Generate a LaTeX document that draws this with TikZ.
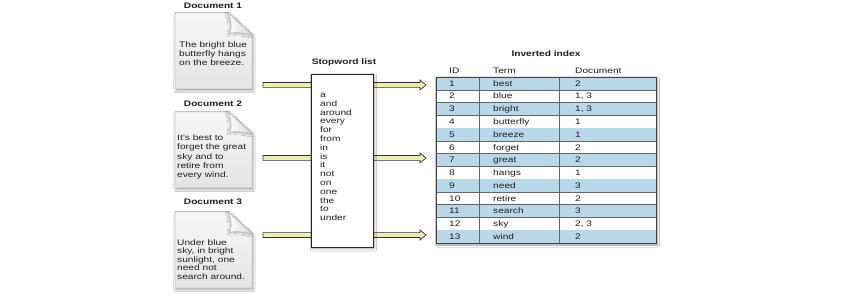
\documentclass[tikz,border=0pt]{standalone}
\usepackage{fontspec}
\setmainfont[FakeStretch=1.27]{Liberation Sans}
\usetikzlibrary{calc,shadows.blur}
\definecolor{rowblue}{HTML}{B8D7E9}
\definecolor{arrowfill}{HTML}{EEEDB4}
\definecolor{txt}{HTML}{1E1E1E}
\tikzset{
  pagebox/.style={draw=gray!55, line width=0.5pt, top color=gray!6, bottom color=gray!22,
    blur shadow={shadow xshift=1pt, shadow yshift=-1.6pt, shadow blur steps=6, shadow opacity=35}},
  flapbox/.style={draw=gray!50, line width=0.4pt, left color=white, right color=gray!30},
  ttl/.style={font=\fontsize{8}{9}\selectfont\bfseries, text=txt, inner sep=0},
  ln/.style={anchor=base west, inner sep=0, text=txt},
  arrowst/.style={draw=black!80, line width=0.7pt, fill=arrowfill, line join=miter},
  cell/.style={anchor=base west, inner sep=0, text=txt},
}
\newcommand\fatarrow[2]{\draw[arrowst] ($(#1)+(0,-2.4)$) -- ($(#2)+(-6,-2.4)$) -- ($(#2)+(-6,-5)$) -- (#2) -- ($(#2)+(-6,5)$) -- ($(#2)+(-6,2.4)$) -- ($(#1)+(0,2.4)$) -- cycle;}
\begin{document}
\begin{tikzpicture}[x=1pt,y=-1pt, font=\fontsize{8}{9}\selectfont]
\useasboundingbox[fill=white] (0,0) rectangle (844,294);

% documents
\foreach \t in {13,112,212}{
  \path[pagebox] (175,\t) -- (228,\t) -- (252,\t+22) -- (252,\t+76) -- (175,\t+76) -- cycle;
  \path[flapbox, blur shadow={shadow xshift=-1pt, shadow yshift=-1pt, shadow blur steps=4, shadow opacity=30}]
     (228,\t) .. controls (232,\t+8) and (232,\t+14) .. (230,\t+20) .. controls (238,\t+19) and (246,\t+20) .. (252,\t+22) -- cycle;
}
\node[ttl] (doc1t) at (213,6) {Document 1};
\node[ttl] (doc2t) at (213,104) {Document 2};
\node[ttl] (doc3t) at (213,202) {Document 3};

\node[ln] (d1a) at (179,48) {The bright blue};
\node[ln] (d1b) at (179,57) {butterfly hangs};
\node[ln] (d1c) at (179,66) {on the breeze.};

\node[ln] (d2a) at (177,141) {It's best to};
\node[ln] (d2b) at (177,150) {forget the great};
\node[ln] (d2c) at (177,159.5) {sky and to};
\node[ln] (d2d) at (177,168.5) {retire from};
\node[ln] (d2e) at (177,177.5) {every wind.};

\node[ln] (d3a) at (177,245) {Under blue};
\node[ln] (d3b) at (177,253.5) {sky, in bright};
\node[ln] (d3c) at (177,262) {sunlight, one};
\node[ln] (d3d) at (177,270.5) {need not};
\node[ln] (d3e) at (177,279) {search around.};

% arrows
\coordinate (as1) at (263,85);  \coordinate (ae1) at (426,85);
\coordinate (as2) at (263,158); \coordinate (ae2) at (426,158);
\coordinate (as3) at (263,235); \coordinate (ae3) at (426,235);
\fatarrow{as1}{ae1}
\fatarrow{as2}{ae2}
\fatarrow{as3}{ae3}

% stopword list
\node[ttl] (swt) at (344,62) {Stopword list};
\node[draw=black!85, line width=0.8pt, fill=white, anchor=north west, inner sep=0,
      minimum width=62, minimum height=173,
      blur shadow={shadow xshift=1.2pt, shadow yshift=-1.5pt, shadow blur steps=6, shadow opacity=35}]
      (sw) at (311,74) {};
\foreach \w [count=\i] in {a,and,around,every,for,from,in,is,it,not,on,one,the,to,under}{
  \node[ln] (sw\i) at (320,97.5+\i*8.8-8.8) {\w};
}

% inverted index
\node[ttl] (iit) at (546,54) {Inverted index};
\node[cell] (hid) at (449,73.5) {ID};
\node[cell] (htm) at (493,73.5) {Term};
\node[cell] (hdc) at (575,73.5) {Document};

\path[fill=white, blur shadow={shadow xshift=1.5pt, shadow yshift=-2pt, shadow blur steps=6, shadow opacity=40}]
  (436,77) rectangle (656,243);
\foreach \id/\term/\doc in {1/best/2, 2/blue/{1, 3}, 3/bright/{1, 3}, 4/butterfly/1, 5/breeze/1,
   6/forget/2, 7/great/2, 8/hangs/1, 9/need/3, 10/retire/2, 11/search/3, 12/sky/{2, 3}, 13/wind/2}{
  \pgfmathsetmacro\yt{77+(\id-1)*12.77}
  \pgfmathsetmacro\yb{77+\id*12.77}
  \pgfmathparse{int(mod(\id,2))}
  \ifnum\pgfmathresult=1 \fill[rowblue] (436,\yt) rectangle (656,\yb); \fi
  \draw[black!60, line width=0.5pt] (436,\yb) -- (656,\yb);
  \node[cell] (id\id) at (449,\yt+9.2) {\id};
  \node[cell] (tm\id) at (493,\yt+9.2) {\term};
  \node[cell] (dc\id) at (575,\yt+9.2) {\doc};
}
\draw[black!60, line width=0.5pt] (479,77) -- (479,243) (559,77) -- (559,243);
\draw[black!75, line width=0.8pt] (436,77) rectangle (656,243);
\end{tikzpicture}
\end{document}
